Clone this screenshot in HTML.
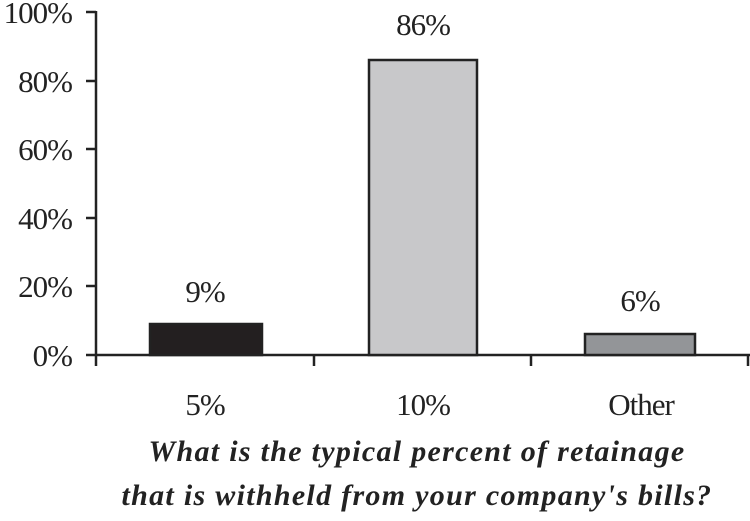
<!DOCTYPE html>
<html><head><style>
body{margin:0;background:#fff}
svg text{font-family:"Liberation Serif",serif;fill:#222}
</style></head><body>
<svg width="750" height="516" viewBox="0 0 750 516" xmlns="http://www.w3.org/2000/svg">
<g stroke="#222" stroke-width="2.5" fill="none">
<line x1="96" y1="11" x2="96" y2="356"/>
<line x1="86" y1="355" x2="750" y2="355"/>
<line x1="86" y1="12" x2="96" y2="12"/>
<line x1="86" y1="81" x2="96" y2="81"/>
<line x1="86" y1="149" x2="96" y2="149"/>
<line x1="86" y1="218" x2="96" y2="218"/>
<line x1="86" y1="286" x2="96" y2="286"/>
<line x1="96" y1="355" x2="96" y2="366"/>
<line x1="314" y1="355" x2="314" y2="366"/>
<line x1="531" y1="355" x2="531" y2="366"/>
<line x1="748" y1="355" x2="748" y2="366"/>
</g>
<rect x="150" y="324" width="112" height="31" fill="#231f20" stroke="#222" stroke-width="2.5"/>
<rect x="369" y="60" width="108" height="295" fill="#c8c8ca" stroke="#222" stroke-width="2.5"/>
<rect x="585" y="334" width="110" height="21" fill="#939598" stroke="#222" stroke-width="2.5"/>
<g font-size="31" text-anchor="end" letter-spacing="-1">
<text x="72" y="23">100%</text>
<text x="72" y="92">80%</text>
<text x="72" y="160">60%</text>
<text x="72" y="229">40%</text>
<text x="72" y="297">20%</text>
<text x="72" y="366">0%</text>
</g>
<g font-size="31" text-anchor="middle" letter-spacing="-1">
<text x="205" y="302">9%</text>
<text x="423" y="35">86%</text>
<text x="640" y="311">6%</text>
<text x="205" y="415">5%</text>
<text x="423" y="415">10%</text>
<text x="641" y="415">Other</text>
</g>
<g font-size="30" font-weight="bold" font-style="italic" text-anchor="middle" letter-spacing="1.3">
<text x="417" y="461">What is the typical percent of retainage</text>
<text x="417" y="505">that is withheld from your company's bills?</text>
</g>
</svg>
</body></html>
